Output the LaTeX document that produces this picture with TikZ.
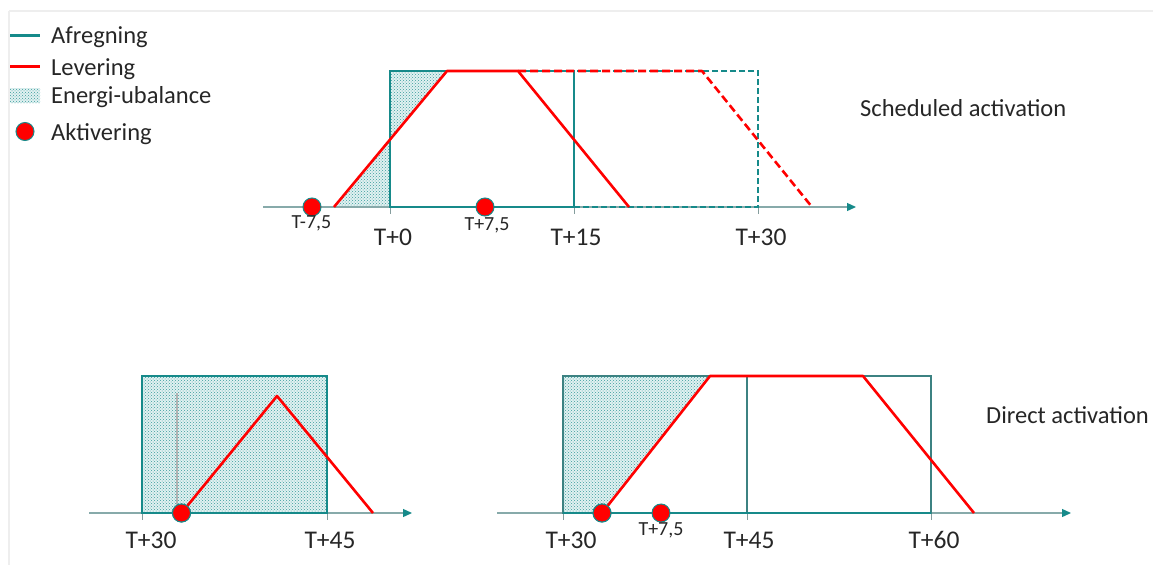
\documentclass[tikz,border=0pt]{standalone}
\usepackage{fontspec}
\setmainfont{Carlito}
\usetikzlibrary{patterns,arrows.meta}
\definecolor{afr}{RGB}{22,138,138}
\definecolor{afrg}{RGB}{60,130,130}
\definecolor{lev}{RGB}{255,0,0}
\definecolor{axisc}{RGB}{135,170,170}
\definecolor{txt}{RGB}{38,38,38}
\definecolor{framec}{RGB}{238,238,238}
\definecolor{dotfill}{RGB}{225,241,241}
\tikzset{
  afrline/.style={draw=afr, line width=2pt},
  levline/.style={draw=lev, line width=2.6pt, line join=round},
  axisline/.style={draw=axisc, line width=1.3pt, -{Triangle[length=9pt,width=8pt,color=afr]}},
  axtick/.style={draw=axisc!70!gray, line width=0.8pt},
  act/.style={circle, fill=lev, draw=afr, line width=1pt, minimum size=18pt, inner sep=0pt},
  imb/.style={fill=dotfill, postaction={pattern=crosshatch dots, pattern color=afr!85}},
  lbl/.style={font=\fontsize{24.5}{28}\selectfont, text=txt, inner sep=0pt},
  tlbl/.style={font=\fontsize{25.5}{28}\selectfont, text=txt, inner sep=0pt},
  slbl/.style={font=\fontsize{20}{22}\selectfont, text=txt, inner sep=0pt},
}
\begin{document}
\begin{tikzpicture}[x=1pt,y=-1pt]
\useasboundingbox (0,0) rectangle (1153,565);
% frame
\draw[framec, line width=2pt] (9,11) -- (1153,11);
\draw[framec, line width=2pt] (9,11) -- (9,565);

% ===== legend =====
\coordinate (la1) at (10,35); \coordinate (la2) at (40,35);
\coordinate (lb1) at (10,66); \coordinate (lb2) at (40,66);
\draw[afrline, line width=3pt] (la1) -- (la2);
\draw[levline, line width=3pt] (lb1) -- (lb2);
\fill[imb] (10,88) rectangle (40,103);
\node[act] (ldot) at (25,131.5) {};
\node[lbl, anchor=base west] (tA) at (51,43.5) {Afregning};
\node[lbl, anchor=base west] (tL) at (51,75) {Levering};
\node[lbl, anchor=base west] (tE) at (51,103.5) {Energi-ubalance};
\node[lbl, anchor=base west] (tK) at (51,140) {Aktivering};

% ===== scheduled activation =====
\coordinate (A0) at (390,207); \coordinate (A15) at (574,207); \coordinate (A30) at (758,207);
\coordinate (B0) at (390,71);  \coordinate (B15) at (574,71);  \coordinate (B30) at (758,71);
\coordinate (ax1s) at (263,207); \coordinate (ax1e) at (856,207);
\coordinate (r1) at (334,207); \coordinate (r2) at (447,71); \coordinate (r3) at (518,71);
\coordinate (r4) at (629,207); \coordinate (r5) at (702,71); \coordinate (r6) at (812,207);

\fill[imb] (B0) -- (r2) -- (r1) -- (A0) -- cycle;
\draw[axisline] (ax1s) -- (ax1e);
\foreach \x in {390,574,758} \draw[axtick] (\x,207) -- (\x,214);
\draw[afrline] (A0) -- (B0) -- (B15) -- (A15) -- cycle;
\draw[afrline, dash pattern=on 6pt off 3pt] (A15) -- (A30) -- (B30) -- (B15);
\draw[levline, dash pattern=on 8pt off 4pt] (r3) -- (r5) -- (r6);
\draw[levline] (r1) -- (r2) -- (r3) -- (r4);
\node[act] (d1) at (312,207) {};
\node[act] (d2) at (485,207) {};
\node[slbl, anchor=base] (tm75) at (311.5,228.5) {T-7,5};
\node[slbl, anchor=base] (tp75a) at (487,230) {T+7,5};
\node[tlbl, anchor=base] (t0) at (393,245) {T+0};
\node[tlbl, anchor=base] (t15) at (576,245) {T+15};
\node[tlbl, anchor=base] (t30a) at (761,245) {T+30};
\node[lbl, anchor=base west] (tsch) at (860,116.5) {Scheduled activation};

% ===== direct activation, left =====
\coordinate (C30) at (142,513); \coordinate (C45) at (327,513);
\coordinate (D30) at (142,376); \coordinate (D45) at (327,376);
\coordinate (ax2s) at (89,513); \coordinate (ax2e) at (412,513);
\coordinate (g1) at (177,393); \coordinate (g2) at (177,513);
\coordinate (p2) at (277,396); \coordinate (p3) at (373,513);
\fill[imb] (C30) rectangle (D45);
\draw[draw=black!30, line width=1.3pt] (g1) -- (g2);
\draw[axisline] (ax2s) -- (ax2e);
\foreach \x in {142,327} \draw[axtick] (\x,513) -- (\x,520);
\draw[afrline] (C30) -- (D30) -- (D45) -- (C45) -- cycle;
\node[act] (d3) at (181.5,513) {};
\draw[levline] (d3.center) -- (p2) -- (p3);
\node[act] at (d3) {};
\node[tlbl, anchor=base] (t30b) at (151,548) {T+30};
\node[tlbl, anchor=base] (t45b) at (330,548) {T+45};

% ===== direct activation, right =====
\coordinate (E30) at (563,513); \coordinate (E45) at (747,513); \coordinate (E60) at (931,513);
\coordinate (F30) at (563,376); \coordinate (F45) at (747,376); \coordinate (F60) at (931,376);
\coordinate (ax3s) at (497,513); \coordinate (ax3e) at (1071,513);
\coordinate (q2) at (710,376); \coordinate (q3) at (863,376); \coordinate (q4) at (974,513);
\fill[imb] (F30) -- (q2) -- (602,513) -- (E30) -- cycle;
\draw[axisline] (ax3s) -- (ax3e);
\foreach \x in {563,747,931} \draw[axtick] (\x,513) -- (\x,520);
\draw[afrline, draw=afrg] (E30) -- (F30) -- (F60) -- (E60) -- cycle;
\draw[afrline, draw=afrg] (E45) -- (F45);
\draw[afrline] (E30) -- (E60);
\node[act] (d4) at (602,513) {};
\node[act] (d5) at (661,513) {};
\draw[levline] (d4.center) -- (q2) -- (q3) -- (q4);
\node[act] at (d4) {};
\node[slbl, anchor=base] (tp75b) at (661,535) {T+7,5};
\node[tlbl, anchor=base] (t30c) at (571,548) {T+30};
\node[tlbl, anchor=base] (t45c) at (749,548) {T+45};
\node[tlbl, anchor=base] (t60c) at (934,548) {T+60};
\node[lbl, anchor=base west] (tdir) at (986,423) {Direct activation};
\end{tikzpicture}
\end{document}
